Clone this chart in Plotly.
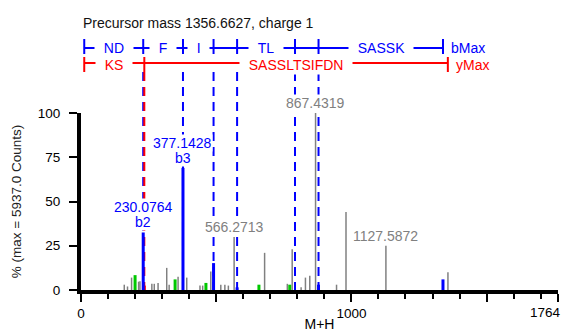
import plotly.graph_objects as go

# ---- spectrum (m/z, % of max intensity) ----
gray_mz = [160, 172, 187, 213, 218, 262, 271, 285, 317, 326, 359, 391, 440, 450,
           480, 517, 532, 545, 566.2713, 679, 763, 781, 814, 830, 846, 867.4319,
           945, 980, 1127.5872, 1357]
gray_int = [3, 2, 7, 4.7, 5, 3.5, 3.5, 4, 12.5, 3, 7.5, 7, 2.5, 2.5,
            10.5, 3, 3, 2.5, 30, 21, 3.5, 23, 1.5, 7, 8, 100,
            3, 44, 25, 10]
green_mz = [200, 348, 462, 658, 772]
green_int = [8.4, 6, 4, 3, 3]
blue_mz = [230.0764, 377.1428, 490.23, 577.26, 878.42, 1338.64]
blue_int = [32.5, 69, 15.2, 1.5, 3, 6]
red_mz = [234.14]
red_int = [2.5]

# annotated peaks
label_mz = [230.0764, 377.1428, 566.2713, 867.4319, 1127.5872]
label_ion = ["b2", "b3", "", "", ""]

# fragment ladders
b_bounds = [12, 230.08, 377.14, 490.23, 577.26, 791.39, 878.42, 1338.64]
b_labels = ["ND", "F", "I", "", "TL", "", "SASSK"]
y_bounds = [12, 234.14, 1356.66]
y_labels = ["KS", "SASSLTSIFDN"]

title_txt = "Precursor mass 1356.6627, charge 1"
x_max = 1764
x_ticks = [0, 500, 1000, 1500]
x_ticktext = ["0", "", "1000", ""]

BLUE, RED, GRAY, GREEN = "#0000ff", "#ff0000", "#808080", "#00c800"
FONT = "Arial, Liberation Sans, Helvetica, sans-serif"

W, H = 571, 331
OFF = 8                     # page body margin: the figure starts 8px in
PLOT_L, PLOT_R, PLOT_T, PLOT_B = 81, 558, 113, 290   # wanted, in window pixels
M_L, M_T = PLOT_L - OFF, PLOT_T - OFF
M_R, M_B = W - (PLOT_R - OFF), H - (PLOT_B - OFF)
PLOT_H = PLOT_B - PLOT_T


def py(px):
    """window pixel row -> paper y"""
    return (PLOT_B - px) / PLOT_H


def sticks(mz, inten):
    xs, ys = [], []
    for m, h in zip(mz, inten):
        xs += [m, m, None]
        ys += [0, h, None]
    return xs, ys


fig = go.Figure()
for mz, inten, col, w in [(gray_mz, gray_int, GRAY, 1.5),
                          (green_mz, green_int, GREEN, 3),
                          (red_mz, red_int, RED, 3),
                          (blue_mz, blue_int, BLUE, 3)]:
    xs, ys = sticks(mz, inten)
    fig.add_trace(go.Scatter(x=xs, y=ys, mode="lines",
                             line=dict(color=col, width=w),
                             hoverinfo="skip", showlegend=False))

shapes = []
annos = []


def ladder(bounds, labels, col, row_px, tick_top, tick_bot, end_label, lab_px):
    shapes.append(dict(type="line", xref="x", yref="paper",
                       x0=bounds[0], x1=bounds[-1], y0=py(row_px), y1=py(row_px),
                       line=dict(color=col, width=2), layer="below"))
    for b in bounds:
        shapes.append(dict(type="line", xref="x", yref="paper",
                           x0=b, x1=b, y0=py(tick_top), y1=py(tick_bot),
                           line=dict(color=col, width=2), layer="below"))
    for b in bounds[1:-1]:
        shapes.append(dict(type="line", xref="x", yref="paper",
                           x0=b, x1=b, y0=py(72), y1=0,
                           line=dict(color=col, width=2, dash="9px,6px"),
                           layer="below"))
    for a, b, lab in zip(bounds[:-1], bounds[1:], labels):
        if lab:
            annos.append(dict(x=(a + b) / 2, y=py(lab_px),
                              xref="x", yref="paper",
                              xanchor="center", yanchor="middle",
                              text="\u00a0\u00a0" + lab + "\u00a0\u00a0",
                              showarrow=False, bgcolor="white", borderpad=1,
                              font=dict(color=col, size=14, family=FONT)))
    annos.append(dict(x=bounds[-1], y=py(lab_px),
                      xref="x", yref="paper", text=end_label,
                      xanchor="left", yanchor="middle",
                      xshift=6, showarrow=False,
                      font=dict(color=col, size=14, family=FONT)))


ladder(b_bounds, b_labels, BLUE, 48, 39, 54, "bMax", 48)
ladder(y_bounds, y_labels, RED, 63, 57, 72, "yMax", 65)

all_mz = gray_mz + blue_mz
all_int = gray_int + blue_int
for m, ion in zip(label_mz, label_ion):
    h = all_int[min(range(len(all_mz)), key=lambda i: abs(all_mz[i] - m))]
    col = BLUE if ion else GRAY
    lines = [f"{m:.4f}"] + ([ion] if ion else [])
    for k, t in enumerate(reversed(lines)):
        annos.append(dict(x=m, y=h, xref="x", yref="y", text=t, showarrow=False,
                          xanchor="center", yanchor="middle", yshift=10 + 15 * k,
                          bgcolor="white", borderpad=0,
                          font=dict(color=col, size=14, family=FONT)))

annos.append(dict(x=0, y=py(23), xref="paper", yref="paper", text=title_txt,
                  xanchor="left", yanchor="middle", showarrow=False,
                  font=dict(color="#111", size=14, family=FONT)))

# end-of-axis label, kept inside the visible page
annos.append(dict(x=x_max, y=py(312), xref="x", yref="paper", text=str(x_max),
                  xanchor="right", yanchor="middle", xshift=5, showarrow=False,
                  font=dict(color="black", size=13.5, family=FONT)))

fig.update_layout(
    width=W, height=H,
    margin=dict(l=M_L, r=M_R, t=M_T, b=M_B, autoexpand=False),
    plot_bgcolor="white", paper_bgcolor="white",
    font=dict(family=FONT, color="black", size=13.5),
    shapes=shapes, annotations=annos,
    xaxis=dict(range=[0, x_max], showline=True, linewidth=4, linecolor="black",
               showgrid=False, zeroline=False, automargin=False,
               ticks="outside", ticklen=8, tickwidth=2, tickcolor="black",
               tickvals=x_ticks + [x_max], ticktext=x_ticktext + [""],
               minor=dict(dtick=100, tick0=0, ticks="outside", ticklen=5,
                          tickwidth=2, tickcolor="black"),
               title=dict(text="M+H", standoff=0, font=dict(size=14))),
    yaxis=dict(range=[0, 100], showline=True, linewidth=4, linecolor="black",
               showgrid=False, zeroline=False, automargin=False,
               ticks="outside", ticklen=8, tickwidth=2, tickcolor="black",
               tickvals=[0, 25, 50, 75, 100], ticklabelstandoff=6,
               title=dict(text="% (max = 5937.0 Counts)", standoff=14,
                          font=dict(size=13.5, color="#222"))),
)

fig.write_html("out.html")
